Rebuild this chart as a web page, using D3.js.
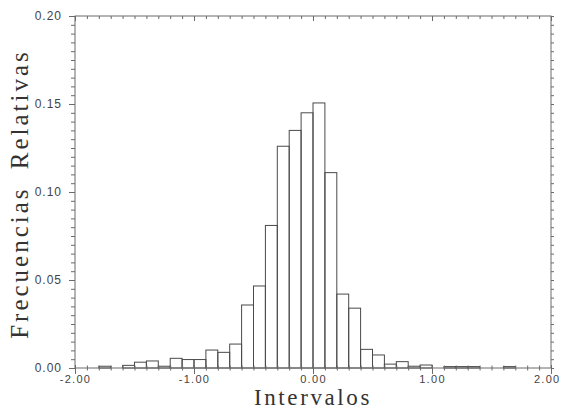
<!DOCTYPE html>
<html>
<head>
<meta charset="utf-8">
<script src="https://cdn.jsdelivr.net/npm/d3@7"></script>
<style>
  body { margin: 0; background: #fff; }
  svg { display: block; }
</style>
</head>
<body>
<div id="chart"></div>
<script>
// Histogram data: bin start and relative frequency (bin width 0.1)
const binStarts = [-1.8, -1.7, -1.6, -1.5, -1.4, -1.3, -1.2, -1.1, -1.0, -0.9, -0.8, -0.7,
  -0.6, -0.5, -0.4, -0.3, -0.2, -0.1, 0.0, 0.1, 0.2, 0.3, 0.4, 0.5, 0.6, 0.7, 0.8, 0.9,
  1.0, 1.1, 1.2, 1.3, 1.4, 1.5, 1.6];
const freqs = [0.001, 0, 0.0015, 0.0033, 0.004, 0.001, 0.0055, 0.0048, 0.0048, 0.0102, 0.0089, 0.0136,
  0.0358, 0.0466, 0.081, 0.126, 0.135, 0.145, 0.1506, 0.111, 0.042, 0.034, 0.0106, 0.0074, 0.0022, 0.0036, 0.001, 0.0017,
  0, 0.0008, 0.0008, 0.0008, 0, 0, 0.0008];
const binWidth = 0.1;

const xTickValues = [-2, -1, 0, 1, 2];
const xTickLabels = ["-2.00", "-1.00", "0.00", "1.00", "2.00"];
const yTickValues = [0, 0.05, 0.10, 0.15, 0.20];
const yTickLabels = ["0.00", "0.05", "0.10", "0.15", "0.20"];

const width = 561;
const height = 411;
const margin = { top: 16, right: 10, bottom: 43, left: 75 };
const iw = width - margin.left - margin.right;
const ih = height - margin.top - margin.bottom;

const svg = d3.select("#chart")
    .append("svg")
    .attr("width", width)
    .attr("height", height);

const g = svg.append("g")
    .attr("transform", `translate(${margin.left}, ${margin.top})`);

const x = d3.scaleLinear().domain([-2, 2]).range([0, iw]);
const y = d3.scaleLinear().domain([0, 0.2]).range([ih, 0]);

const frameColor = "#6a6a6a";
const textColor = "#444";

// Bars (outlines only)
const data = binStarts.map((s, i) => ({ s, v: freqs[i] })).filter(d => d.v > 0);
g.selectAll("rect.bar")
    .data(data)
    .enter()
    .append("rect")
    .attr("class", "bar")
    .attr("x", d => x(d.s))
    .attr("y", d => y(d.v))
    .attr("width", d => x(d.s + binWidth) - x(d.s))
    .attr("height", d => y(0) - y(d.v))
    .attr("fill", "none")
    .attr("stroke", "#4a4a4a")
    .attr("stroke-width", 1);

// Frame
g.append("rect")
    .attr("x", 0).attr("y", 0)
    .attr("width", iw).attr("height", ih)
    .attr("fill", "none")
    .attr("stroke", frameColor)
    .attr("stroke-width", 1);

const xMinor = x.ticks(40);
const yMinor = d3.range(0, 41).map(i => i * 0.005);

function styleAxis(sel) {
    sel.select(".domain").remove();
    sel.selectAll(".tick line").attr("stroke", frameColor);
}

// Bottom: crossing minor ticks
g.append("g")
    .attr("transform", `translate(0, ${ih - 2.5})`)
    .call(d3.axisBottom(x).tickValues(xMinor).tickSize(5).tickFormat(""))
    .call(styleAxis);
// Bottom: major ticks + labels
const xAx = g.append("g")
    .attr("transform", `translate(0, ${ih - 3})`)
    .call(d3.axisBottom(x).tickValues(xTickValues).tickSize(9).tickPadding(1)
        .tickFormat((d, i) => xTickLabels[i]))
    .call(styleAxis);
xAx.selectAll("text")
    .attr("fill", textColor)
    .attr("text-anchor", (d, i) => i === xTickValues.length - 1 ? "end" : "middle")
    .attr("dx", (d, i) => i === xTickValues.length - 1 ? 9 : 0)
    .style("font-family", "'Liberation Sans', Arial, sans-serif")
    .style("font-size", "11px")
    .style("letter-spacing", "1.3px");

// Top: inward ticks
g.append("g")
    .call(d3.axisBottom(x).tickValues(xMinor).tickSize(3).tickFormat(""))
    .call(styleAxis);
g.append("g")
    .call(d3.axisBottom(x).tickValues(xTickValues).tickSize(5).tickFormat(""))
    .call(styleAxis);

// Left: outward ticks
g.append("g")
    .call(d3.axisLeft(y).tickValues(yMinor).tickSize(4).tickFormat(""))
    .call(styleAxis);
const yAx = g.append("g")
    .call(d3.axisLeft(y).tickValues(yTickValues).tickSize(6).tickPadding(7)
        .tickFormat((d, i) => yTickLabels[i]))
    .call(styleAxis);
yAx.selectAll("text")
    .attr("fill", textColor)
    .style("font-family", "'Liberation Sans', Arial, sans-serif")
    .style("font-size", "12px")
    .style("letter-spacing", "1px");

// Right: ticks
g.append("g")
    .attr("transform", `translate(${iw}, 0)`)
    .call(d3.axisRight(y).tickValues(yMinor).tickSize(3).tickFormat(""))
    .call(styleAxis);

// Axis titles
svg.append("text")
    .attr("x", margin.left + x(0))
    .attr("y", 405)
    .attr("text-anchor", "middle")
    .attr("fill", "#333")
    .style("font-family", "'Liberation Serif', 'Times New Roman', serif")
    .style("font-size", "23px")
    .style("letter-spacing", "2.6px")
    .text("Intervalos");

svg.append("text")
    .attr("transform", `translate(28, ${margin.top + ih / 2 + 2}) rotate(-90)`)
    .attr("text-anchor", "middle")
    .attr("fill", "#333")
    .style("font-family", "'Liberation Serif', 'Times New Roman', serif")
    .style("font-size", "25px")
    .style("letter-spacing", "3px")
    .style("word-spacing", "8px")
    .text("Frecuencias Relativas");
</script>
</body>
</html>
